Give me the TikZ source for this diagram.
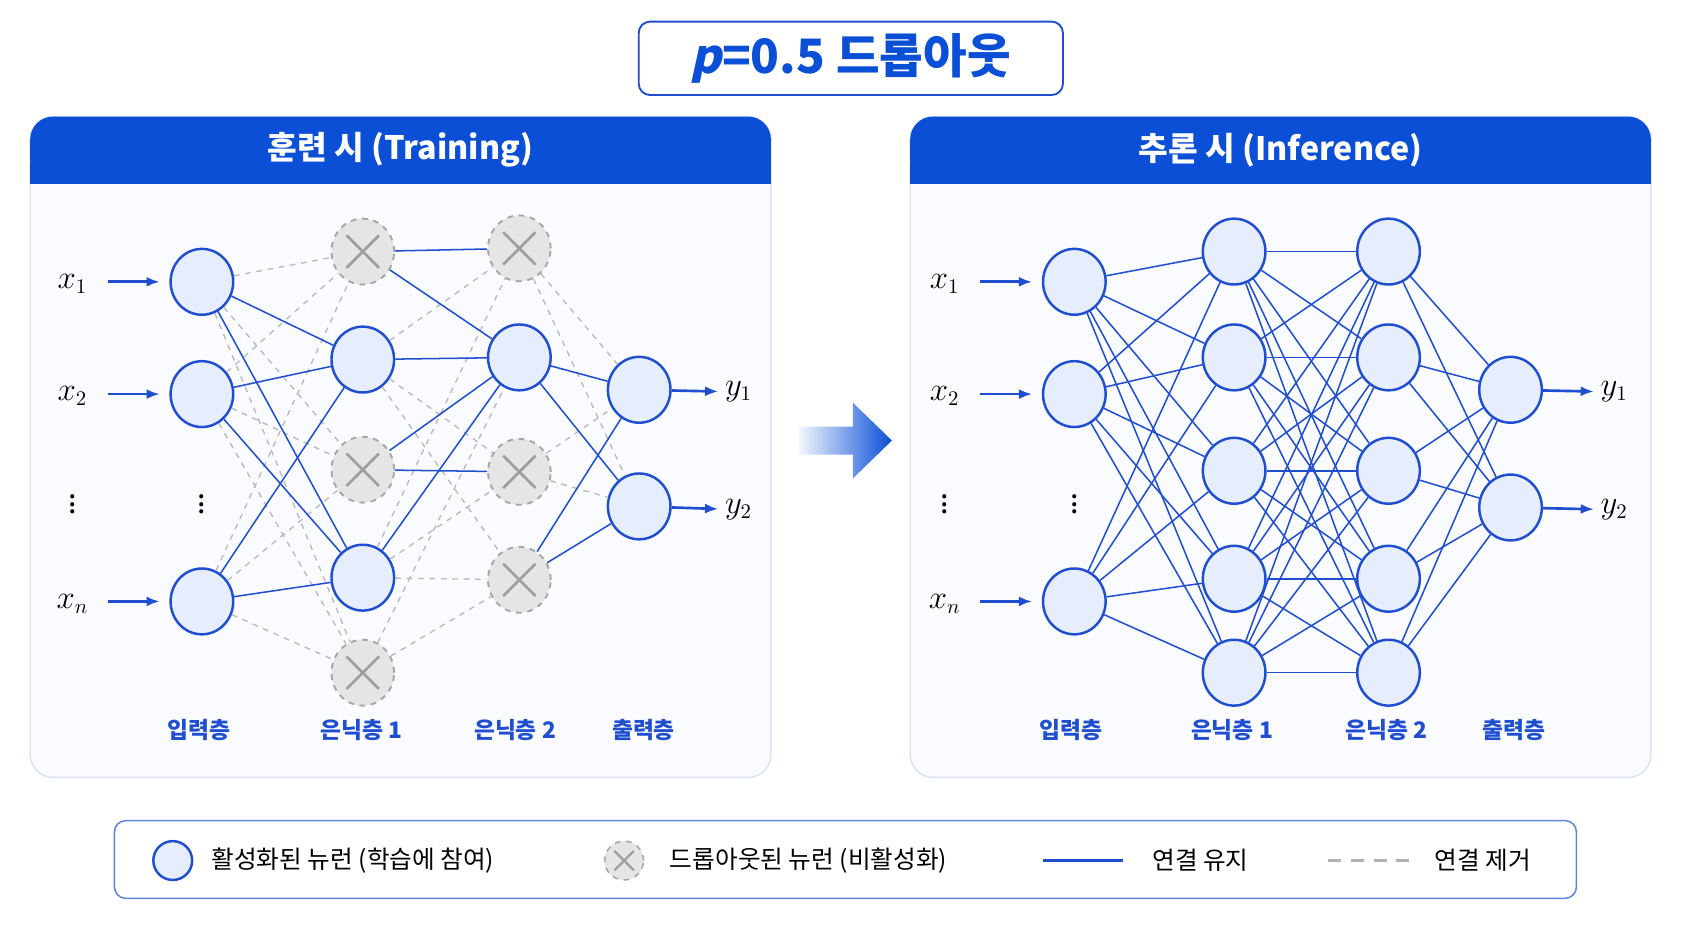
\documentclass[tikz,border=0pt]{standalone}
\usepackage{fontspec}
\setmainfont{Noto Sans CJK KR}
\newfontfamily\slfont{Noto Sans CJK KR}[FakeSlant=0.22]
\usepackage{tikz}
\usetikzlibrary{positioning,calc,arrows.meta,shapes.geometric}
\definecolor{hdblue}{HTML}{0A4FD6}
\definecolor{nblue}{HTML}{1F4FD0}
\definecolor{nfill}{HTML}{E6EDFC}
\definecolor{pnl}{HTML}{FAFBFE}
\definecolor{pbd}{HTML}{DCE4F4}
\begin{document}
\begin{tikzpicture}[x=0.02cm,y=-0.02cm]
\tikzset{
  act/.style={draw=nblue,line width=1.3pt,fill=nfill,ellipse,minimum width=1.16cm,minimum height=1.22cm,inner sep=0pt},
  drop/.style={draw=gray!70,dashed,line width=1pt,fill=gray!20,ellipse,minimum width=1.16cm,minimum height=1.22cm,inner sep=0pt},
  keep/.style={draw=nblue,line width=0.8pt},
  cut/.style={draw=gray!55,dashed,line width=0.7pt},
  inarr/.style={draw=nblue,line width=1.4pt,-{Latex[length=7pt]}},
  lay/.style={text=nblue,font=\fontsize{12}{14}\selectfont\bfseries},
  lbl/.style={font=\fontsize{16}{18}\selectfont},
  panel/.style={draw=pbd,fill=pnl,rounded corners=12pt,line width=0.8pt}
}
\useasboundingbox (0,0) rectangle (1568,860);
\fill[white] (0,0) rectangle (1568,860);
% title
\node[draw=nblue,line width=1pt,rounded corners=6pt,minimum width=7.86cm,minimum height=1.36cm,font=\fontsize{25}{28}\selectfont\bfseries,text=hdblue] (title) at (788,54) {{\slfont p}=0.5 드롭아웃};
% panels
\foreach \px/\nm/\txt in {28/pl/훈련 시 (Training),843/pr/추론 시 (Inference)}{
  \draw[panel] (\px,108) rectangle ++(686,612);
  \fill[hdblue,rounded corners=12pt] (\px,108) rectangle ++(686,62);
  \fill[hdblue] (\px,150) rectangle ++(686,20);
  \node[text=white,font=\fontsize{17}{20}\selectfont\bfseries] (\nm) at ($(\px,139)+(343,0)$) {\txt};
}
% training network
\node[act] (i1) at (187,261) {};
\node[act] (i2) at (187,365) {};
\node[act] (i3) at (187,557) {};
\node[drop] (a1) at (336,233) {};
\node[act] (a2) at (336,333) {};
\node[drop] (a3) at (336,435) {};
\node[act] (a4) at (336,535) {};
\node[drop] (a5) at (336,623) {};
\node[drop] (b1) at (481,230) {};
\node[act] (b2) at (481,331) {};
\node[drop] (b3) at (481,437) {};
\node[drop] (b4) at (481,537) {};
\node[act] (o1) at (592,361) {};
\node[act] (o2) at (592,469) {};
\foreach \d in {a1,a3,a5,b1,b3,b4}{
  \draw[gray!75,line width=1.4pt] ($(\d)+(-15,-15)$) -- ($(\d)+(15,15)$) ($(\d)+(-15,15)$) -- ($(\d)+(15,-15)$);
}
\foreach \s in {i1,i2,i3}{\foreach \t in {a1,a3,a5}{\draw[cut] (\s) -- (\t);}}
\foreach \s in {a2,a4}{\foreach \t in {b1,b3,b4}{\draw[cut] (\s) -- (\t);}}
\foreach \s in {a5}{\foreach \t in {b2,b4}{\draw[cut] (\s) -- (\t);}}
\foreach \s in {b1,b3}{\foreach \t in {o1,o2}{\draw[cut] (\s) -- (\t);}}
\foreach \s in {i1,i2,i3}{\foreach \t in {a2,a4}{\draw[keep] (\s) -- (\t);}}
\foreach \s/\t in {a2/b2,a4/b2,a1/b1,a1/b2,a3/b2,a3/b3,b2/o1,b2/o2,b4/o1,b4/o2}{\draw[keep] (\s) -- (\t);}
% inference network
\node[act] (p1) at (995,261) {};
\node[act] (p2) at (995,365) {};
\node[act] (p3) at (995,557) {};
\foreach \k/\yy in {1/233,2/331,3/436,4/536,5/623}{
  \node[act] (q\k) at (1143,\yy) {};
  \node[act] (r\k) at (1286,\yy) {};
}
\node[act] (s1) at (1399,361) {};
\node[act] (s2) at (1399,470) {};
\foreach \s in {p1,p2,p3}{\foreach \k in {1,...,5}{\draw[keep] (\s) -- (q\k);}}
\foreach \j in {1,...,5}{\foreach \k in {1,...,5}{\draw[keep] (q\j) -- (r\k);}}
\foreach \k in {1,...,5}{\draw[keep] (r\k) -- (s1); \draw[keep] (r\k) -- (s2);}
% inputs and outputs
\foreach \dx/\ni/\no in {0/i/o,808/p/s}{
  \node[lbl] (x1\ni) at ($(67,263)+(\dx,0)$) {$x_1$};
  \node[lbl] (x2\ni) at ($(67,367)+(\dx,0)$) {$x_2$};
  \node[lbl] (xn\ni) at ($(67,559)+(\dx,0)$) {$x_n$};
  \node[lbl,inner sep=0pt] at ($(67,462)+(\dx,0)$) {$\vdots$};
  \node[lbl,inner sep=0pt] at ($(187,462)+(\dx,0)$) {$\vdots$};
  \draw[inarr] ($(100,261)+(\dx,0)$) -- ($(148,261)+(\dx,0)$);
  \draw[inarr] ($(100,365)+(\dx,0)$) -- ($(148,365)+(\dx,0)$);
  \draw[inarr] ($(100,557)+(\dx,0)$) -- ($(148,557)+(\dx,0)$);
}
\node[lbl] (y1l) at (684,363) {$y_1$};
\node[lbl] (y2l) at (684,472) {$y_2$};
\node[lbl] (y1r) at (1495,363) {$y_1$};
\node[lbl] (y2r) at (1495,472) {$y_2$};
\draw[inarr] (o1) -- (y1l);
\draw[inarr] (o2) -- (y2l);
\draw[inarr] (s1) -- (y1r);
\draw[inarr] (s2) -- (y2r);
% layer labels
\foreach \xx/\tt in {184/입력층,335/은닉층 1,477/은닉층 2,596/출력층,992/입력층,1141/은닉층 1,1284/은닉층 2,1402/출력층}{
  \node[lay] at (\xx,676) {\tt};
}
% big arrow
\shade[left color=hdblue!5,right color=hdblue] (740,395) -- (790,395) -- (790,373) -- (826,408) -- (790,443) -- (790,421) -- (740,421) -- cycle;
% legend
\draw[draw=nblue!70,line width=0.8pt,rounded corners=6pt] (106,760) rectangle (1460,832);
\node[act,minimum width=0.72cm,minimum height=0.72cm] (lg1) at (160,797) {};
\node[right=6pt of lg1,font=\fontsize{13}{15}\selectfont] {활성화된 뉴런 (학습에 참여)};
\node[draw=gray!70,dashed,line width=0.8pt,fill=gray!20,circle,minimum size=0.72cm,inner sep=0pt] (lg2) at (578,797) {};
\draw[gray!75,line width=1.2pt] ($(lg2)+(-9,-9)$) -- ($(lg2)+(9,9)$) ($(lg2)+(-9,9)$) -- ($(lg2)+(9,-9)$);
\node[right=10pt of lg2,font=\fontsize{13}{15}\selectfont] {드롭아웃된 뉴런 (비활성화)};
\coordinate (k1) at (966,797);
\coordinate (k2) at (1040,797);
\draw[nblue,line width=1.6pt] (k1) -- (k2);
\node[right=12pt of k2,font=\fontsize{13}{15}\selectfont] {연결 유지};
\coordinate (c1) at (1230,797);
\coordinate (c2) at (1305,797);
\draw[gray!60,line width=1.2pt,dash pattern=on 7pt off 5pt] (c1) -- (c2);
\node[right=10pt of c2,font=\fontsize{13}{15}\selectfont] {연결 제거};
\end{tikzpicture}
\end{document}
